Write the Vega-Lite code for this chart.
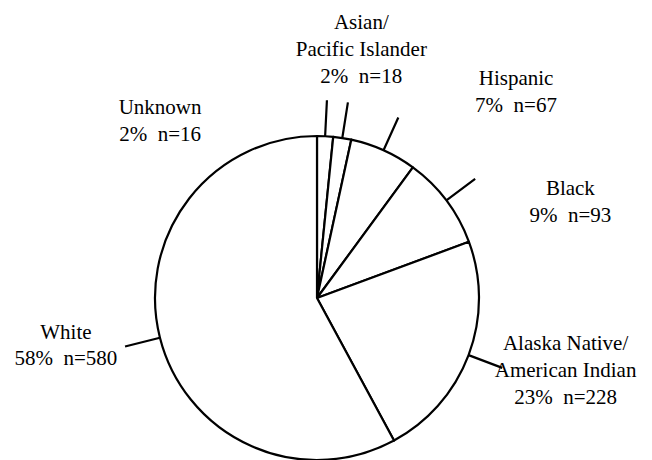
{
  "$schema": "https://vega.github.io/schema/vega-lite/v6.json",
  "autosize": {"type": "none"},
  "width": 634,
  "height": 324,
  "padding": {"left": 0, "top": 136, "right": 18, "bottom": 0},
  "background": "white",
  "config": {"view": {"stroke": null}, "text": {"font": "Liberation Serif", "fontSize": 21}},
  "data": {
    "values": [
      {"cat": "Unknown", "count": 16, "label": "Unknown\n2%\u00a0\u00a0n=16"},
      {"cat": "Asian/Pacific Islander", "count": 18, "label": "Asian/\nPacific Islander\n2%\u00a0\u00a0n=18"},
      {"cat": "Hispanic", "count": 67, "label": "Hispanic\n7%\u00a0\u00a0n=67"},
      {"cat": "Black", "count": 93, "label": "Black\n9%\u00a0\u00a0n=93"},
      {"cat": "Alaska Native/American Indian", "count": 228, "label": "Alaska Native/\nAmerican Indian\n23%\u00a0\u00a0n=228"},
      {"cat": "White", "count": 580, "label": "White\n58%\u00a0\u00a0n=580"}
    ]
  },
  "layer": [
    {
      "mark": {"type": "arc", "outerRadius": 162, "fill": "white", "stroke": "black", "strokeWidth": 2.2, "strokeJoin": "round"},
      "encoding": {
        "theta": {"field": "count", "type": "quantitative", "stack": true},
        "order": {"field": "count", "type": "quantitative", "sort": "ascending"}
      }
    },
    {
      "transform": [
        {"fold": ["count", "count", "count"], "as": ["part", "v"]},
        {"window": [{"op": "row_number", "as": "rn"}]}
      ],
      "mark": {"type": "arc", "outerRadius": 198, "innerRadius": 162, "padAngle": 3, "filled": false, "stroke": "black", "strokeWidth": 2.2},
      "encoding": {
        "theta": {"field": "v", "type": "quantitative", "stack": true},
        "order": {"field": "rn", "type": "quantitative", "sort": "ascending"},
        "strokeOpacity": {"condition": {"test": "datum.rn % 3 === 2", "value": 1}, "value": 0}
      }
    },
    {
      "mark": {"type": "text", "radius": 162, "dx": -165, "dy": -22.5, "align": "center", "baseline": "alphabetic", "font": "Liberation Serif", "fontSize": 21, "lineHeight": 27.5, "lineBreak": "\n", "fill": "black"},
      "encoding": {
        "theta": {"field": "count", "type": "quantitative", "stack": true},
        "order": {"field": "count", "type": "quantitative", "sort": "ascending"},
        "text": {"condition": {"test": "datum.cat === 'Unknown'", "field": "label", "type": "nominal"}, "value": ""}
      }
    },
    {
      "mark": {"type": "text", "radius": 162, "dx": 19, "dy": -109, "align": "center", "baseline": "alphabetic", "font": "Liberation Serif", "fontSize": 21, "lineHeight": 27, "lineBreak": "\n", "fill": "black"},
      "encoding": {
        "theta": {"field": "count", "type": "quantitative", "stack": true},
        "order": {"field": "count", "type": "quantitative", "sort": "ascending"},
        "text": {"condition": {"test": "datum.cat === 'Asian/Pacific Islander'", "field": "label", "type": "nominal"}, "value": ""}
      }
    },
    {
      "mark": {"type": "text", "radius": 162, "dx": 132.5, "dy": -65, "align": "center", "baseline": "alphabetic", "font": "Liberation Serif", "fontSize": 21, "lineHeight": 26.5, "lineBreak": "\n", "fill": "black"},
      "encoding": {
        "theta": {"field": "count", "type": "quantitative", "stack": true},
        "order": {"field": "count", "type": "quantitative", "sort": "ascending"},
        "text": {"condition": {"test": "datum.cat === 'Hispanic'", "field": "label", "type": "nominal"}, "value": ""}
      }
    },
    {
      "mark": {"type": "text", "radius": 162, "dx": 124, "dy": -5, "align": "center", "baseline": "alphabetic", "font": "Liberation Serif", "fontSize": 21, "lineHeight": 26.5, "lineBreak": "\n", "fill": "black"},
      "encoding": {
        "theta": {"field": "count", "type": "quantitative", "stack": true},
        "order": {"field": "count", "type": "quantitative", "sort": "ascending"},
        "text": {"condition": {"test": "datum.cat === 'Black'", "field": "label", "type": "nominal"}, "value": ""}
      }
    },
    {
      "mark": {"type": "text", "radius": 162, "dx": 97, "dy": -5, "align": "center", "baseline": "alphabetic", "font": "Liberation Serif", "fontSize": 21, "lineHeight": 26.7, "lineBreak": "\n", "fill": "black"},
      "encoding": {
        "theta": {"field": "count", "type": "quantitative", "stack": true},
        "order": {"field": "count", "type": "quantitative", "sort": "ascending"},
        "text": {"condition": {"test": "datum.cat === 'Alaska Native/American Indian'", "field": "label", "type": "nominal"}, "value": ""}
      }
    },
    {
      "mark": {"type": "text", "radius": 162, "dx": -94, "dy": 1, "align": "center", "baseline": "alphabetic", "font": "Liberation Serif", "fontSize": 21, "lineHeight": 26.7, "lineBreak": "\n", "fill": "black"},
      "encoding": {
        "theta": {"field": "count", "type": "quantitative", "stack": true},
        "order": {"field": "count", "type": "quantitative", "sort": "ascending"},
        "text": {"condition": {"test": "datum.cat === 'White'", "field": "label", "type": "nominal"}, "value": ""}
      }
    }
  ],
  "resolve": {"scale": {"theta": "independent"}}
}
